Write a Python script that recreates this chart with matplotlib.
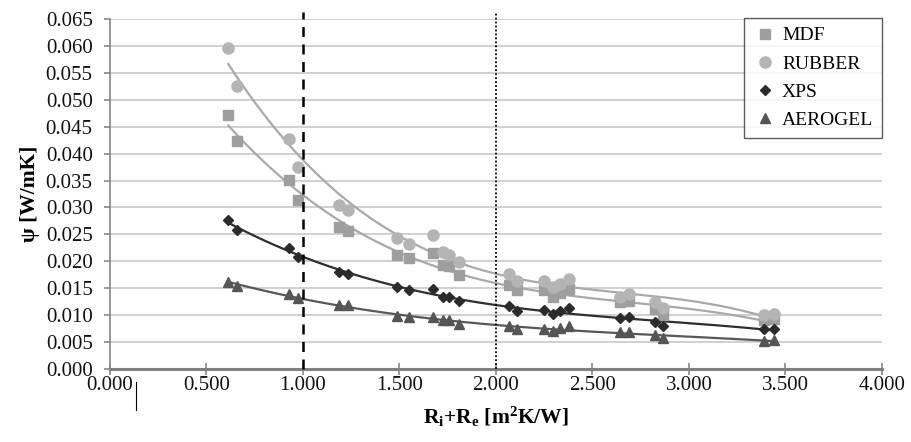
import numpy as np
import matplotlib
matplotlib.use('agg')
import matplotlib.pyplot as plt
from matplotlib.lines import Line2D

# R_i + R_e values [m2K/W]
r_tot = [0.613, 0.660, 0.927, 0.976, 1.185, 1.233, 1.489, 1.548,
         1.672, 1.727, 1.758, 1.810, 2.067, 2.110, 2.249, 2.294,
         2.332, 2.378, 2.642, 2.687, 2.822, 2.867, 3.389, 3.440]

psi_mdf = [0.0472, 0.0424, 0.0351, 0.0314, 0.0263, 0.0257, 0.0212, 0.0207,
           0.0215, 0.0193, 0.0191, 0.0175, 0.0156, 0.0146, 0.0146, 0.0134,
           0.0141, 0.0148, 0.0125, 0.0127, 0.0111, 0.0100, 0.0091, 0.0092]
psi_rubber = [0.0597, 0.0525, 0.0427, 0.0375, 0.0305, 0.0296, 0.0243, 0.0232,
              0.0249, 0.0218, 0.0212, 0.0198, 0.0177, 0.0164, 0.0164, 0.0153,
              0.0157, 0.0167, 0.0133, 0.0139, 0.0125, 0.0113, 0.0100, 0.0102]
psi_xps = [0.0277, 0.0258, 0.0224, 0.0208, 0.0181, 0.0177, 0.0152, 0.0147,
           0.0148, 0.0134, 0.0134, 0.0126, 0.0117, 0.0108, 0.0110, 0.0102,
           0.0107, 0.0113, 0.0094, 0.0097, 0.0087, 0.0079, 0.0074, 0.0074]
psi_aerogel = [0.0162, 0.0155, 0.0139, 0.0131, 0.0118, 0.0118, 0.0099, 0.0096,
               0.0097, 0.0091, 0.0091, 0.0083, 0.0080, 0.0074, 0.0074, 0.0071,
               0.0076, 0.0080, 0.0068, 0.0068, 0.0063, 0.0057, 0.0052, 0.0053]

names = ['MDF', 'RUBBER', 'XPS', 'AEROGEL']
series = [psi_mdf, psi_rubber, psi_xps, psi_aerogel]
markers = ['s', 'o', 'D', '^']
msizes = [7, 8, 5.5, 7]
mcolors = ['#9e9e9e', '#b4b4b4', '#2b2b2b', '#555555']
lcolors = ['#a9a9a9', '#a9a9a9', '#2e2e2e', '#585858']

plt.rcParams['font.family'] = ['Liberation Serif', 'DejaVu Serif']
plt.rcParams['mathtext.fontset'] = 'custom'
plt.rcParams['mathtext.rm'] = 'Liberation Serif'
plt.rcParams['mathtext.bf'] = 'Liberation Serif:bold'
plt.rcParams['mathtext.it'] = 'Liberation Serif:italic'

fig = plt.figure(figsize=(9.12, 4.42), dpi=100)
ax = fig.add_axes([110/912, 1-369/442, 772/912, 350/442])

x = np.array(r_tot)
xf = np.linspace(x.min(), x.max(), 200)
for name, y, mk, ms, mc, lc in zip(names, series, markers, msizes, mcolors, lcolors):
    coef = np.polyfit(x, np.array(y), 3)
    ax.plot(xf, np.polyval(coef, xf), color=lc, lw=1.6, zorder=2)
    ax.plot(x, y, linestyle='none', marker=mk, ms=ms, color=mc,
            markeredgecolor=mc, zorder=3, label=name)

ax.vlines(1.0, 0, 0.0663, colors='black', linestyles=(0, (4, 3)), lw=1.8, clip_on=False, zorder=4)
ax.vlines(2.0, 0, 0.0663, colors='black', linestyles=(0, (1, 1.2)), lw=1.3, clip_on=False, zorder=4)

ax.set_xlim(0, 4)
ax.set_ylim(0, 0.065)
ax.set_xticks(np.arange(0, 4.01, 0.5))
ax.set_yticks(np.arange(0, 0.0651, 0.005))
ax.set_xticklabels([f'{v:.3f}' for v in np.arange(0, 4.01, 0.5)])
ax.set_yticklabels([f'{v:.3f}' for v in np.arange(0, 0.0651, 0.005)])
ax.tick_params(axis='both', labelsize=15, colors='#888888', labelcolor='#111111', width=1.2)
ax.tick_params(axis='x', direction='inout', length=8, pad=1)
ax.tick_params(axis='y', direction='out', length=4.5, pad=8)
ax.grid(axis='y', color='#c8c8c8', lw=1.2)
ax.set_axisbelow(True)
for s in ['top', 'right']:
    ax.spines[s].set_visible(False)
ax.spines['left'].set_color('#888888')
ax.spines['left'].set_linewidth(1.2)
ax.spines['bottom'].set_color('#808080')
ax.spines['bottom'].set_linewidth(2.2)

ax.set_ylabel('ψ [W/mK]', fontsize=15.5, fontweight='bold', labelpad=4)
ax.set_xlabel(r'R$_\mathbf{i}$+R$_\mathbf{e}$ [m$^\mathbf{2}$K/W]', fontsize=15.5,
              fontweight='bold', labelpad=7)

leg = ax.legend(loc='upper right', bbox_to_anchor=(1.0, 1.003), fontsize=14,
                frameon=True, fancybox=False, borderpad=0.45, labelspacing=0.55,
                handletextpad=0.2, handlelength=1.3, borderaxespad=0)
leg.get_frame().set_edgecolor('#333333')
leg.get_frame().set_linewidth(1.0)

# cursor mark next to the first x tick label
fig.add_artist(Line2D([136/912, 136/912], [1-382/442, 1-410/442], color='black', lw=0.8))

fig.savefig('out.png', dpi=100)
